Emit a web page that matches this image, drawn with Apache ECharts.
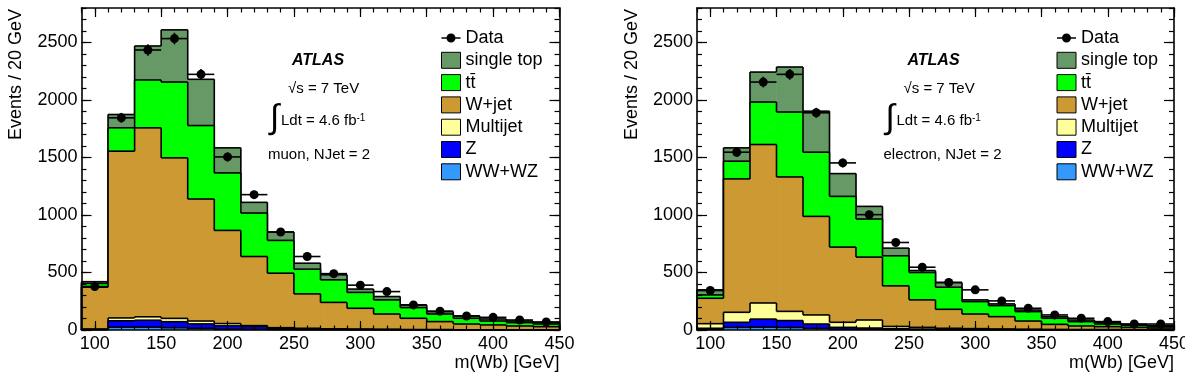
<!DOCTYPE html>
<html>
<head>
<meta charset="utf-8">
<script src="https://cdn.jsdelivr.net/npm/echarts@6/dist/echarts.min.js"></script>
<style>
  html, body { margin: 0; padding: 0; background: #fff; }
  #chart { width: 1185px; height: 372px; }
</style>
</head>
<body>
<div id="chart"></div>
<script>
// bin centres of the 20 GeV bins (90..450)
const binCenters = [100, 120, 140, 160, 180, 200, 220, 240, 260, 280, 300, 320, 340, 360, 380, 400, 420, 440];
const xTickLabels = [100, 150, 200, 250, 300, 350, 400, 450];
const yTickLabels = [0, 500, 1000, 1500, 2000, 2500];

// muon channel
const muonData      = [378, 1845, 2435, 2534, 2223, 1505, 1177, 852, 639, 490, 390, 334, 218, 164, 122, 110, 87, 70];
const muonSingleTop = [15, 116, 296, 454, 402, 218, 93, 73, 52, 44, 29, 29, 23, 21, 20, 18, 14, 12];
const muonTtbar     = [33, 203, 416, 659, 639, 500, 378, 285, 215, 196, 138, 123, 93, 66, 50, 34, 29, 23];
const muonWjet      = [364, 1450, 1643, 1396, 1061, 810, 601, 474, 299, 230, 181, 133, 98, 69, 50, 42, 33, 27];
const muonMultijet  = [2, 25, 30, 29, 25, 20, 8, 5, 5, 4, 3, 2, 2, 2, 1, 1, 1, 1];
const muonZ         = [4, 55, 60, 52, 38, 30, 25, 12, 8, 5, 4, 3, 2, 2, 1, 1, 1, 1];
const muonWW        = [2, 25, 25, 20, 15, 6, 5, 3, 2, 1, 1, 1, 0, 0, 0, 0, 0, 0];

// electron channel
const elecData      = [343, 1546, 2156, 2223, 1889, 1453, 1003, 761, 546, 413, 349, 253, 189, 131, 102, 73, 52, 52];
const elecSingleTop = [44, 116, 261, 392, 357, 198, 110, 67, 17, 41, 15, 15, 14, 14, 14, 12, 8, 9];
const elecTtbar     = [29, 154, 369, 564, 558, 441, 331, 261, 238, 192, 108, 96, 82, 53, 38, 23, 18, 12];
const elecWjet      = [221, 1160, 1378, 1169, 857, 654, 547, 353, 239, 165, 127, 107, 71, 44, 31, 25, 20, 14];
const elecMultijet  = [40, 87, 140, 80, 79, 44, 70, 20, 15, 10, 8, 6, 5, 4, 3, 3, 2, 2];
const elecZ         = [10, 44, 70, 60, 37, 17, 12, 8, 6, 4, 3, 2, 2, 1, 1, 1, 1, 1];
const elecWW        = [5, 23, 25, 22, 15, 6, 5, 3, 2, 1, 1, 1, 0, 0, 0, 0, 0, 0];

const FONT = '"Liberation Sans", Arial, Helvetica, sans-serif';
const BIN = 20;

// stack order bottom -> top
const components = [
  { name: 'WW+WZ', color: '#3399ff' },
  { name: 'Z', color: '#0000ff' },
  { name: 'Multijet', color: '#ffff99' },
  { name: 'W+jet', color: '#cc9933' },
  { name: 'tt\u0304', color: '#00ff00' },
  { name: 'single top', color: '#669966' }
];

const panels = [
  { label: 'muon, NJet = 2', data: muonData, layers: [muonWW, muonZ, muonMultijet, muonWjet, muonTtbar, muonSingleTop] },
  { label: 'electron, NJet = 2', data: elecData, layers: [elecWW, elecZ, elecMultijet, elecWjet, elecTtbar, elecSingleTop] }
];

const grids = [
  { left: 81.5, top: 8, width: 478, height: 322 },
  { left: 697, top: 8, width: 477, height: 322 }
];

function cumulate(layers) {
  let run = binCenters.map(() => 0);
  return layers.map(l => (run = run.map((v, i) => v + l[i])));
}

function seg(x1, y1, x2, y2) {
  return { type: 'line', z2: 10, shape: { x1, y1, x2, y2 }, style: { stroke: '#000', lineWidth: 1.6 } };
}

function stackSeries(comp, cum, g, z) {
  return {
    type: 'custom', name: comp.name, xAxisIndex: g * 4, yAxisIndex: g * 4, z,
    itemStyle: { color: comp.color },
    data: binCenters.map((c, i) => [c, cum[i]]),
    renderItem(params, api) {
      const i = params.dataIndex;
      const lo = binCenters[i] - BIN / 2, hi = binCenters[i] + BIN / 2;
      const p0 = api.coord([lo, 0]);
      const p1 = api.coord([hi, cum[i]]);
      const next = i < cum.length - 1 ? cum[i + 1] : 0;
      const pn = api.coord([hi, next]);
      const children = [
        { type: 'rect', z2: 0, shape: { x: p0[0] - 0.3, y: p1[1], width: p1[0] - p0[0] + 0.6, height: p0[1] - p1[1] },
          style: { fill: comp.color } },
        seg(p0[0], p1[1], p1[0], p1[1]),
        seg(p1[0], p1[1], p1[0], pn[1])
      ];
      if (i === 0) children.push(seg(p0[0], p0[1], p0[0], p1[1]));
      return { type: 'group', children };
    }
  };
}

function dataSeries(values, g) {
  return {
    type: 'custom', name: 'Data', xAxisIndex: g * 4, yAxisIndex: g * 4, z: 20,
    itemStyle: { color: '#000' },
    data: binCenters.map((c, i) => [c, values[i]]),
    renderItem(params, api) {
      const x = api.value(0), y = api.value(1);
      const err = Math.sqrt(y);
      const c = api.coord([x, y]);
      const l = api.coord([x - BIN / 2, y]), r = api.coord([x + BIN / 2, y]);
      const up = api.coord([x, y + err]), dn = api.coord([x, y - err]);
      return { type: 'group', children: [
        { type: 'line', shape: { x1: l[0], y1: c[1], x2: r[0], y2: c[1] }, style: { stroke: '#000', lineWidth: 1.6 } },
        { type: 'line', shape: { x1: c[0], y1: up[1], x2: c[0], y2: dn[1] }, style: { stroke: '#000', lineWidth: 1.6 } },
        { type: 'circle', shape: { cx: c[0], cy: c[1], r: 4.5 }, style: { fill: '#000' } }
      ]};
    }
  };
}

const plain = v => String(v);

function axesFor(g) {
  const xs = [], ys = [];
  ['bottom', 'top'].forEach(pos => {
    xs.push({
      type: 'value', gridIndex: g, position: pos, min: 90, max: 450, z: 30,
      axisLine: { show: true, onZero: false, lineStyle: { color: '#000', width: 1.6 } },
      axisTick: { show: true, inside: true, length: 9, customValues: xTickLabels, lineStyle: { color: '#000', width: 1.2 } },
      axisLabel: { show: pos === 'bottom', customValues: xTickLabels, formatter: plain, margin: 5, color: '#000', fontSize: 18, fontFamily: FONT },
      splitLine: { show: false }
    });
    xs.push({
      type: 'value', gridIndex: g, position: pos, min: 90, max: 450, interval: 10, z: 30,
      axisLine: { show: false, onZero: false },
      axisTick: { show: true, inside: true, length: 4.5, lineStyle: { color: '#000', width: 1.2 } },
      axisLabel: { show: false }, splitLine: { show: false }
    });
  });
  ['left', 'right'].forEach(pos => {
    ys.push({
      type: 'value', gridIndex: g, position: pos, min: 0, max: 2800, z: 30,
      axisLine: { show: true, onZero: false, lineStyle: { color: '#000', width: 1.6 } },
      axisTick: { show: true, inside: true, length: 10, customValues: yTickLabels, lineStyle: { color: '#000', width: 1.2 } },
      axisLabel: { show: pos === 'left', customValues: yTickLabels, formatter: plain, margin: 4, color: '#000', fontSize: 18, fontFamily: FONT },
      splitLine: { show: false }
    });
    ys.push({
      type: 'value', gridIndex: g, position: pos, min: 0, max: 2800, interval: 100, z: 30,
      axisLine: { show: false, onZero: false },
      axisTick: { show: true, inside: true, length: 5, lineStyle: { color: '#000', width: 1.2 } },
      axisLabel: { show: false }, splitLine: { show: false }
    });
  });
  return { xs, ys };
}

const DATA_ICON = 'path://M0,3.8H19V5.2H0Z M14,4.5A4.5,4.5,0,1,1,5,4.5A4.5,4.5,0,1,1,14,4.5Z';

const xAxis = [], yAxis = [], series = [], legend = [], graphic = [];
panels.forEach((p, g) => {
  const a = axesFor(g);
  xAxis.push(...a.xs);
  yAxis.push(...a.ys);
  const cum = cumulate(p.layers);
  for (let k = components.length - 1; k >= 0; k--) {
    series.push(stackSeries(components[k], cum[k], g, 2 + (components.length - 1 - k)));
  }
  series.push(dataSeries(p.data, g));

  const left = grids[g].left;
  const right = grids[g].left + grids[g].width;
  const dx = left - 81.5;
  legend.push({
    orient: 'vertical', left: 436 + dx, top: 24, itemWidth: 19, itemHeight: 16, itemGap: 4.3,
    selectedMode: false,
    textStyle: { fontSize: 18, fontFamily: FONT, color: '#000' },
    itemStyle: { borderColor: '#000', borderWidth: 1 },
    data: [{ name: 'Data', icon: DATA_ICON, itemStyle: { borderWidth: 0 } }]
      .concat(components.slice().reverse().map(c => ({ name: c.name, icon: 'rect' })))
  });

  graphic.push(
    { type: 'text', x: 318 + dx, y: 61, style: { text: 'ATLAS', font: 'italic bold 16px ' + FONT, fill: '#000', align: 'center', verticalAlign: 'middle' } },
    { type: 'text', x: 288 + dx, y: 89, style: { text: '\u221As = 7 TeV', font: '15px ' + FONT, fill: '#000', align: 'left', verticalAlign: 'middle' } },
    { type: 'text', x: 270 + dx, y: 119, style: { text: '\u222B', font: '34px ' + FONT, fill: '#000', align: 'left', verticalAlign: 'middle' } },
    { type: 'text', x: 281 + dx, y: 121, style: { text: '{a|Ldt = 4.6 fb}{s|-1}', fill: '#000', align: 'left', verticalAlign: 'middle',
        rich: { a: { fontSize: 15, fontFamily: FONT, color: '#000' }, s: { fontSize: 10, fontFamily: FONT, color: '#000', verticalAlign: 'top' } } } },
    { type: 'text', x: 268 + dx, y: 155, style: { text: p.label, font: '15px ' + FONT, fill: '#000', align: 'left', verticalAlign: 'middle' } },
    { type: 'text', x: right, y: 363, style: { text: 'm(Wb) [GeV]', font: '18px ' + FONT, fill: '#000', align: 'right', verticalAlign: 'middle' } },
    { type: 'text', x: left - 65, y: 9, rotation: Math.PI / 2, style: { text: 'Events / 20 GeV', font: '18px ' + FONT, fill: '#000', align: 'right', verticalAlign: 'middle' } }
  );
});

const option = {
  backgroundColor: '#fff',
  animation: false,
  grid: grids.map(g => Object.assign({ outerBoundsMode: 'none', containLabel: false }, g)),
  xAxis, yAxis, series, legend, graphic
};

const myChart = echarts.init(document.getElementById('chart'));
myChart.setOption(option);
</script>
</body>
</html>
